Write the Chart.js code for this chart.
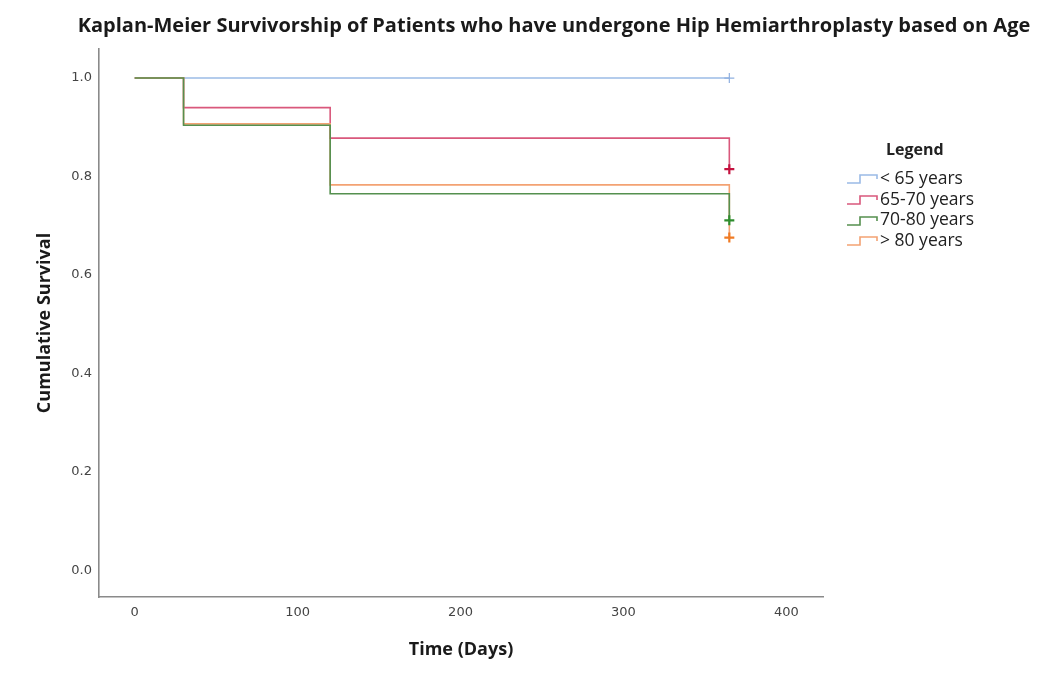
<!DOCTYPE html>
<html>
<head>
<meta charset="utf-8">
<script src="https://cdn.jsdelivr.net/npm/chart.js@4.4.1/dist/chart.umd.min.js"></script>
<style>
  html, body { margin: 0; padding: 0; background: #fff; }
  #wrap { position: relative; width: 1064px; height: 675px; }
  #title {
    position: absolute; left: 44px; width: 1020px; top: 11px;
    text-align: center; font: bold 20px 'Open Sans', sans-serif; color: #1a1a1a;
    white-space: nowrap;
  }
  #legend {
    position: absolute; left: 846px; top: 137px;
    font: 17.5px 'Open Sans', sans-serif; color: #222;
  }
  #legend .head { font-weight: bold; font-size: 16px; margin-left: 40px; height: 30px; line-height: 24px; }
  #legend .row { height: 20.7px; line-height: 20.7px; white-space: nowrap; }
  #legend svg { vertical-align: middle; margin-right: 1px; }
</style>
</head>
<body>
<div id="wrap">
  <canvas id="km" width="1064" height="675"></canvas>
  <div id="title">Kaplan-Meier Survivorship of Patients who have undergone Hip Hemiarthroplasty based on Age</div>
  <div id="legend"></div>
</div>
<script>
const groups = ['< 65 years', '65-70 years', '70-80 years', '> 80 years'];
const lineColors = ['#9bbbe6', '#d9587c', '#55904f', '#f3a273'];
const censorColors = ['#8fb0e0', '#c4123f', '#2e8d2e', '#f07b24'];
// lower number is drawn on top
const drawOrder = [4, 3, 1, 2];

// survival steps per group (days, cumulative survival)
const timesLt65 = [0, 365];
const survLt65 = [1.0, 1.0];
const times65to70 = [0, 30, 120, 365];
const surv65to70 = [1.0, 0.940, 0.878, 0.815];
const times70to80 = [0, 30, 120, 365];
const surv70to80 = [1.0, 0.904, 0.765, 0.711];
const timesGt80 = [0, 30, 120, 365];
const survGt80 = [1.0, 0.907, 0.783, 0.676];

const xTicks = [0, 100, 200, 300, 400];
const yTicks = [0.0, 0.2, 0.4, 0.6, 0.8, 1.0];

const seriesTimes = [timesLt65, times65to70, times70to80, timesGt80];
const seriesSurv = [survLt65, surv65to70, surv70to80, survGt80];

const datasets = groups.map((g, i) => {
  const n = seriesTimes[i].length;
  return {
    label: g,
    order: drawOrder[i],
    data: seriesTimes[i].map((t, k) => ({ x: t, y: seriesSurv[i][k] })),
    stepped: true,
    borderColor: lineColors[i],
    borderWidth: 1.6,
    fill: false,
    pointStyle: 'cross',
    pointRadius: seriesTimes[i].map((t, k) => (k === n - 1 ? 5 : 0)),
    pointBorderColor: censorColors[i],
    pointBorderWidth: i === 0 ? 1.2 : 2.2,
    pointBackgroundColor: censorColors[i]
  };
});

const tickFont = { family: 'DejaVu Sans', size: 13 };
const titleFont = { family: 'Open Sans', size: 18, weight: 'bold' };

new Chart(document.getElementById('km'), {
  type: 'line',
  data: { datasets },
  options: {
    responsive: false,
    animation: false,
    events: [],
    layout: { padding: { top: 49, right: 241, left: 0, bottom: 0 } },
    plugins: { legend: { display: false }, tooltip: { enabled: false } },
    scales: {
      x: {
        type: 'linear',
        min: -21.9,
        max: 422.5,
        afterBuildTicks: (s) => { s.ticks = xTicks.map(v => ({ value: v })); },
        afterFit: (s) => { s.height = 78; },
        grid: { drawOnChartArea: false, drawTicks: false },
        border: { color: '#8a8a8a', width: 1.6 },
        ticks: { font: tickFont, color: '#444', padding: 8, callback: (v) => String(v) },
        title: { display: true, text: 'Time (Days)', font: titleFont, color: '#1a1a1a', padding: { top: 0, bottom: 14 } }
      },
      y: {
        type: 'linear',
        min: -0.054,
        max: 1.059,
        afterBuildTicks: (s) => { s.ticks = yTicks.map(v => ({ value: v })); },
        afterFit: (s) => { s.width = 99; },
        grid: { drawOnChartArea: false, drawTicks: false },
        border: { color: '#8a8a8a', width: 1.6 },
        ticks: { font: tickFont, color: '#444', padding: 7, callback: (v) => Number(v).toFixed(1) },
        title: { display: true, text: 'Cumulative Survival', font: titleFont, color: '#1a1a1a', padding: { top: 34, bottom: 0 } }
      }
    }
  }
});

// legend with small step icons
const legend = document.getElementById('legend');
const head = document.createElement('div');
head.className = 'head';
head.textContent = 'Legend';
legend.appendChild(head);
groups.forEach((g, i) => {
  const row = document.createElement('div');
  row.className = 'row';
  row.innerHTML = `<svg width="33" height="12" viewBox="0 0 33 12"><path d="M1 10 H14 V2 H31 V6" fill="none" stroke="${lineColors[i]}" stroke-width="1.6"/></svg>`;
  const span = document.createElement('span');
  span.textContent = g;
  row.appendChild(span);
  legend.appendChild(row);
});
</script>
</body>
</html>
